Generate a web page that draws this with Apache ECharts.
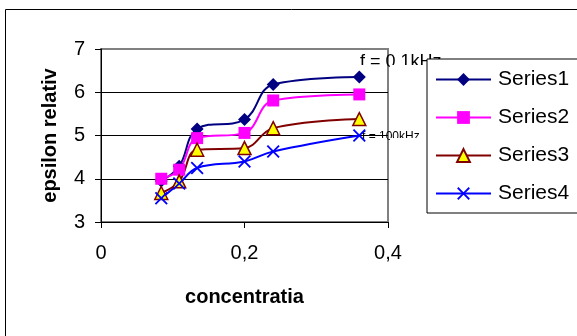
<!DOCTYPE html>
<html>
<head>
<meta charset="utf-8">
<script src="https://cdn.jsdelivr.net/npm/echarts@6/dist/echarts.min.js"></script>
<style>
  html, body { margin: 0; padding: 0; background: #fff; }
  #chart { width: 577px; height: 336px; }
</style>
</head>
<body>
<div id="chart"></div>
<script>
// concentratia (x) and epsilon relativ for the four series
var concentratia = [0.084, 0.109, 0.134, 0.2, 0.24, 0.36];
var series1 = [3.95, 4.29, 5.15, 5.37, 6.18, 6.35];
var series2 = [4.0, 4.21, 4.94, 5.06, 5.81, 5.95];
var series3 = [3.67, 3.94, 4.67, 4.71, 5.17, 5.38];
var series4 = [3.55, 3.89, 4.25, 4.40, 4.63, 5.0];
var seriesNames = ['Series1', 'Series2', 'Series3', 'Series4'];
var notes = ['f = 0,1kHz', 'f = 100kHz'];

var FONT = '"Liberation Sans", Arial, sans-serif';

function pairs(ys) {
  return concentratia.map(function (x, i) { return [x, ys[i]]; });
}

// X mark, drawn as a thin filled cross
var crossPath = 'path://M0,1L1,0L5,4L9,0L10,1L6,5L10,9L9,10L5,6L1,10L0,9L4,5Z';

var chart = echarts.init(document.getElementById('chart'));
var option = {
  animation: false,
  textStyle: { fontFamily: FONT, color: '#000' },
  grid: {
    left: 101, top: 49, right: 189, bottom: 114,
    show: true,
    borderColor: '#808080',
    borderWidth: 2
  },
  xAxis: {
    type: 'value',
    min: 0, max: 0.4, interval: 0.2,
    name: 'concentratia',
    nameLocation: 'middle',
    nameGap: 65,
    nameTextStyle: { fontSize: 20, fontWeight: 'bold', color: '#000', fontFamily: FONT },
    axisLine: { lineStyle: { color: '#000', width: 1 } },
    axisTick: { show: true, inside: false, length: 6, lineStyle: { color: '#000' } },
    axisLabel: {
      fontSize: 20, color: '#000', margin: 21, fontFamily: FONT,
      formatter: function (v) { return String(v).replace('.', ','); }
    },
    splitLine: { show: false }
  },
  yAxis: {
    type: 'value',
    min: 3, max: 7, interval: 1,
    name: 'epsilon relativ',
    nameLocation: 'middle',
    nameGap: 41,
    nameTextStyle: { fontSize: 20, fontWeight: 'bold', color: '#000', fontFamily: FONT },
    axisLine: { show: true, lineStyle: { color: '#000', width: 1 } },
    axisTick: { show: true, inside: false, length: 6, lineStyle: { color: '#000' } },
    axisLabel: { fontSize: 20, color: '#000', margin: 16, fontFamily: FONT },
    splitLine: {
      show: true,
      lineStyle: { color: ['#000', '#000', '#000', '#000', '#808080'], width: 1 }
    }
  },
  legend: {
    orient: 'vertical',
    left: 427, top: 59,
    padding: [10, 10, 9, 8],
    itemWidth: 55,
    itemHeight: 16,
    itemGap: 17,
    backgroundColor: '#fff',
    borderColor: '#000',
    borderWidth: 1,
    borderRadius: 0,
    z: 10,
    textStyle: { fontSize: 21, color: '#000', fontFamily: FONT, padding: [0, 0, 0, 2] },
    data: seriesNames
  },
  graphic: [
    {
      type: 'rect', silent: true, z: 0,
      shape: { x: 5.5, y: 9.5, width: 700, height: 500 },
      style: { fill: 'none', stroke: '#000', lineWidth: 1 }
    },
    {
      type: 'text', z: 0, x: 360, y: 53,
      style: { text: notes[0], font: '18px ' + FONT, fill: '#000' }
    },
    {
      type: 'text', z: 0, x: 362, y: 131,
      style: { text: notes[1], font: '12px ' + FONT, fill: '#000' }
    },
    // the notes are cut off at the bottom in the original
    { type: 'rect', z: 1, silent: true, shape: { x: 355, y: 65, width: 32, height: 5 }, style: { fill: '#fff' } },
    { type: 'rect', z: 1, silent: true, shape: { x: 390, y: 65, width: 40, height: 5 }, style: { fill: '#fff' } },
    { type: 'rect', z: 1, silent: true, shape: { x: 366, y: 138, width: 21, height: 5 }, style: { fill: '#fff' } },
    { type: 'rect', z: 1, silent: true, shape: { x: 390, y: 138, width: 40, height: 5 }, style: { fill: '#fff' } }
  ],
  series: [
    {
      name: seriesNames[0], type: 'line', smooth: 0.4,
      symbol: 'diamond', symbolSize: 13,
      lineStyle: { color: '#000080', width: 2 },
      itemStyle: { color: '#000080' },
      data: pairs(series1)
    },
    {
      name: seriesNames[1], type: 'line', smooth: 0.4,
      symbol: 'rect', symbolSize: 12,
      lineStyle: { color: '#FF00FF', width: 2 },
      itemStyle: { color: '#FF00FF' },
      data: pairs(series2)
    },
    {
      name: seriesNames[2], type: 'line', smooth: 0.4,
      symbol: 'triangle', symbolSize: 13,
      lineStyle: { color: '#800000', width: 2 },
      itemStyle: { color: '#FFFF00', borderColor: '#800000', borderWidth: 1.5 },
      data: pairs(series3)
    },
    {
      name: seriesNames[3], type: 'line', smooth: 0.4,
      symbol: crossPath, symbolSize: 13,
      lineStyle: { color: '#0000FF', width: 2 },
      itemStyle: { color: '#0000FF' },
      data: pairs(series4)
    }
  ]
};
chart.setOption(option);
</script>
</body>
</html>
